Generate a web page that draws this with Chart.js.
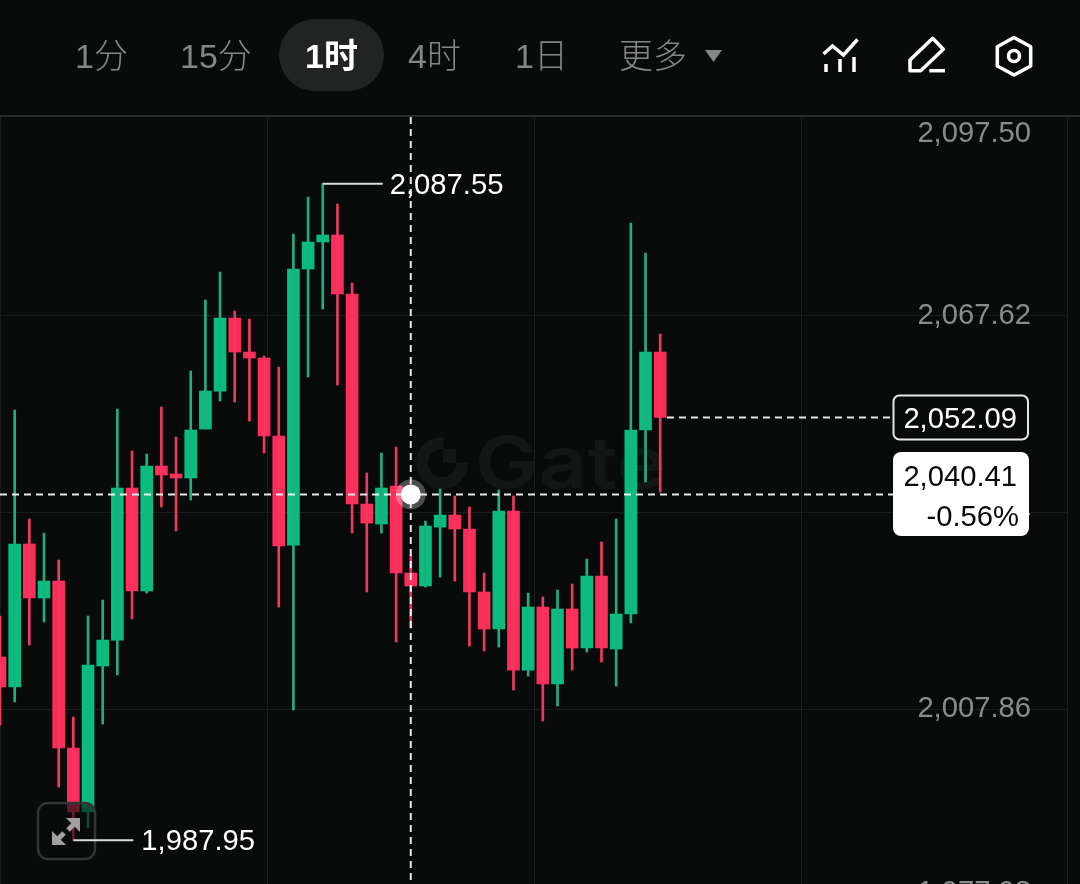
<!DOCTYPE html>
<html lang="zh">
<head>
<meta charset="utf-8">
<title>Gate 1时 K线</title>
<script src="https://cdn.jsdelivr.net/npm/chart.js@4"></script>
<style>
html,body{margin:0;padding:0;width:1080px;height:884px;overflow:hidden;background:#090b0b;}
#wrap{position:relative;width:1080px;height:884px;overflow:hidden;}
canvas#c{position:absolute;left:0;top:0;display:block;}
.tab{position:absolute;top:34px;height:44px;font:300 34px/44px "Liberation Sans","Noto Sans CJK SC",sans-serif;color:#858686;white-space:nowrap;}
.tab.on{color:#fff;font-weight:700;}
#pill{position:absolute;left:279px;top:19px;width:105px;height:72px;border-radius:36px;background:#222423;}
svg.ic{position:absolute;left:0;top:0;}
</style>
</head>
<body>
<div id="wrap">
  <canvas id="c" width="1080" height="906"></canvas>
  <div id="pill"></div>
  <div class="tab" style="left:75px">1分</div>
  <div class="tab" style="left:180px">15分</div>
  <div class="tab on" style="left:305px">1时</div>
  <div class="tab" style="left:408px">4时</div>
  <div class="tab" style="left:515px">1日</div>
  <div class="tab" style="left:619px">更多</div>
  <svg class="ic" width="1080" height="110" fill="none" stroke="#fff" stroke-width="3.5">
    <path d="M705 50h17l-8.500 12z" fill="#858686" stroke="none"/>
    <path d="M823.500 54l9-8 11 9 14-15.500"/>
    <path d="M826 64v8M840 59v13M854 57v15"/>
    <path d="M932.700 38.300l10.600 11-22.600 21.400H910V60z" stroke-linejoin="round"/>
    <path d="M929.300 70.700H945"/>
    <path d="M1014 37.500l16.700 9.300V66L1014 75l-16.700-9V46.800z" stroke-linejoin="round"/>
    <circle cx="1014" cy="56" r="5.500"/>
  </svg>
</div>
<script>
const candleIndex = Array.from({length:46},(_,i)=>i);
const opens = [2015.75,2011.20,2032.89,2024.70,2027.27,2001.94,1992.24,2014.38,2018.32,2041.38,2025.76,2044.72,2043.50,2042.90,2050.33,2056.09,2067.17,2062.01,2061.10,2049.27,2032.73,2074.60,2078.69,2079.76,2070.81,2038.95,2035.92,2041.68,2028.49,2026.52,2035.46,2037.28,2035.16,2025.61,2019.99,2037.89,2013.77,2023.33,2011.65,2023.03,2017.11,2028.03,2016.96,2022.27,2050.18,2062.01];
const highs = [2021.97,2053.21,2036.68,2034.55,2030.46,2006.65,2021.97,2024.39,2053.36,2046.99,2046.54,2053.67,2049.12,2059.13,2069.90,2074.14,2068.23,2067.01,2061.40,2059.73,2079.91,2085.52,2087.55,2084.46,2072.47,2043.66,2046.69,2047.60,2031.22,2036.37,2041.23,2040.17,2038.50,2028.49,2041.08,2040.17,2025.45,2024.85,2025.91,2026.82,2030.61,2033.19,2036.68,2081.58,2077.02,2064.74];
const lows = [2005.43,2008.92,2017.57,2021.06,1996.03,1987.95,1989.81,2005.58,2013.02,2021.51,2025.45,2038.50,2034.86,2039.56,2050.33,2054.58,2054.42,2051.54,2046.69,2023.33,2007.71,2058.22,2068.53,2057.00,2034.55,2025.61,2034.55,2018.02,2020.14,2026.36,2027.88,2027.27,2017.41,2016.66,2017.26,2010.74,2012.86,2006.04,2008.31,2013.77,2016.50,2014.99,2011.35,2020.90,2042.29,2040.77];
const closes = [2011.20,2032.89,2024.70,2027.27,2001.94,1992.24,2014.53,2018.32,2041.38,2025.76,2044.72,2043.35,2042.90,2050.18,2056.09,2067.17,2062.01,2061.10,2049.27,2032.58,2074.60,2078.69,2079.76,2070.81,2038.95,2036.07,2041.38,2028.49,2026.52,2035.62,2037.28,2035.16,2025.61,2019.99,2037.89,2013.77,2023.33,2011.65,2023.03,2017.11,2028.03,2017.11,2022.27,2050.18,2062.01,2052.09];
const yTicks = [2097.50,2067.62,2037.74,2007.86,1977.98];
const xGrid = [0,18.2,36.4,54.6,72.73];
const lastPrice = 2052.09;
const crossPrice = 2040.41;
const crossChange = '-0.56%';
const crossIndex = 28;
const highLabel = {index:22,value:2087.55};
const lowLabel = {index:5,value:1987.95};

const GREEN='#06bf7f', RED='#ff2d5a', GREENW='#1fae80', REDW='#ee3a62';
const GRID='#1b1d1d';
const FONT='"Liberation Sans",Arial,sans-serif';
const fmt=v=>v.toLocaleString('en-US',{minimumFractionDigits:2,maximumFractionDigits:2});
const up=i=>closes[i]>=opens[i];

function roundRect(ctx,x,y,w,h,r){ctx.beginPath();ctx.roundRect(x,y,w,h,r);}

const overlay={
  id:'overlay',
  beforeDraw(chart){
    const s=chart.scales.y, items=s.getLabelItems();
    if(chart.$shifted!==items){
      const shift=[16,1,0,0,-13];
      items.forEach((it,i)=>{it.options.translation[1]+=shift[i]||0;});
      chart.$shifted=items;
    }
  },
  beforeDatasetsDraw(chart){
    const c=chart.ctx;
    c.save();
    c.fillStyle='#2a2c2c';c.fillRect(0,115,1080,2);
    // watermark
    c.fillStyle='#141616';c.strokeStyle='#141616';
    c.lineWidth=12;c.beginPath();c.arc(442,463,20,-85*Math.PI/180,0,true);c.stroke();
    c.fillRect(443,449,13,14);
    c.translate(475,488);c.scale(1.18,1);
    c.font='600 72px Inter,'+FONT;c.textAlign='left';c.textBaseline='alphabetic';
    c.fillText('Gate',0,0);
    c.restore();
  },
  afterDatasetsDraw(chart){
    const c=chart.ctx,x=chart.scales.x,y=chart.scales.y;
    c.save();
    // expand button
    roundRect(c,38,803,57,56,10);
    c.fillStyle='rgba(10,12,12,0.62)';c.fill();
    c.lineWidth=2.5;c.strokeStyle='#333535';c.stroke();
    c.strokeStyle='#a0a0a0';c.fillStyle='#a0a0a0';c.lineWidth=5;
    c.beginPath();c.moveTo(74,824);c.lineTo(68,830);c.stroke();
    c.beginPath();c.moveTo(58,839);c.lineTo(64,833);c.stroke();
    c.beginPath();c.moveTo(80,818);c.lineTo(80,832);c.lineTo(66,818);c.closePath();c.fill();
    c.beginPath();c.moveTo(52,845);c.lineTo(52,831);c.lineTo(66,845);c.closePath();c.fill();
    // high / low leaders
    c.strokeStyle='#dcdcdc';c.lineWidth=2;
    const hx=x.getPixelForValue(highLabel.index),hy=y.getPixelForValue(highLabel.value);
    c.beginPath();c.moveTo(hx,hy);c.lineTo(hx+60,hy);c.stroke();
    const lx=x.getPixelForValue(lowLabel.index),ly=y.getPixelForValue(lowLabel.value);
    c.beginPath();c.moveTo(lx,ly);c.lineTo(lx+60,ly);c.stroke();
    c.font='29.200px '+FONT;c.fillStyle='#fff';c.textAlign='left';c.textBaseline='middle';
    c.fillText(fmt(highLabel.value),hx+67,hy+2);
    c.fillText(fmt(lowLabel.value),lx+68,ly+2);
    // crosshair
    const cx=x.getPixelForValue(crossIndex),cy=y.getPixelForValue(crossPrice);
    c.setLineDash([7,5]);c.lineWidth=2;c.strokeStyle='rgba(255,255,255,0.9)';
    c.beginPath();c.moveTo(cx,117);c.lineTo(cx,884);c.stroke();
    c.beginPath();c.moveTo(0,cy);c.lineTo(893,cy);c.stroke();
    // last price line
    const ly2=y.getPixelForValue(lastPrice);
    c.beginPath();c.moveTo(667,ly2);c.lineTo(893,ly2);c.stroke();
    c.setLineDash([]);
    // dot
    c.fillStyle='rgba(255,255,255,0.28)';c.beginPath();c.arc(cx,cy,15,0,Math.PI*2);c.fill();
    c.fillStyle='#fff';c.beginPath();c.arc(cx,cy,10,0,Math.PI*2);c.fill();
    // last price tag
    roundRect(c,893.500,395.500,134.500,44,6);
    c.fillStyle='#090b0b';c.fill();c.lineWidth=2;c.strokeStyle='#e6e6e6';c.stroke();
    c.fillStyle='#fff';c.textAlign='right';
    c.fillText(fmt(lastPrice),1017,ly2+3);
    // crosshair tag
    roundRect(c,893,452,136,84,8);c.fillStyle='#fff';c.fill();
    c.fillStyle='#0a0a0a';
    c.fillText(fmt(crossPrice),1017,478);
    c.fillText(crossChange,1019,518);
    c.restore();
  }
};

new Chart(document.getElementById('c'),{
  type:'bar',
  data:{datasets:[
    {label:'wick',data:candleIndex.map(i=>({x:i,y:[lows[i],highs[i]]})),barThickness:2,grouped:false,
     backgroundColor:ctx=>up(ctx.dataIndex)?GREENW:REDW,borderWidth:0},
    {label:'body',data:candleIndex.map(i=>({x:i,y:[opens[i],closes[i]]})),barThickness:12,grouped:false,
     backgroundColor:ctx=>up(ctx.dataIndex)?GREEN:RED,borderWidth:0}
  ]},
  options:{
    responsive:false,animation:false,devicePixelRatio:1,
    layout:{autoPadding:false,padding:{top:116,right:13,left:0,bottom:0}},
    plugins:{legend:{display:false},tooltip:{enabled:false}},
    scales:{
      x:{type:'linear',min:0,max:72.73,offset:false,
        afterBuildTicks:s=>{s.ticks=xGrid.map(v=>({value:v}));},
        afterFit:s=>{s.height=0;},
        grid:{offset:false,color:GRID,lineWidth:1,drawTicks:false},border:{display:false},ticks:{display:false}},
      y:{type:'linear',position:'right',min:1977.98,max:2097.81,
        afterBuildTicks:s=>{s.ticks=yTicks.map(v=>({value:v}));},
        afterFit:s=>{s.width=0;},
        grid:{color:c=>c.index===0?'transparent':GRID,lineWidth:1,drawTicks:false},border:{display:false},
        ticks:{mirror:true,padding:-36,color:'#8a8b8b',font:{family:FONT,size:29.2},callback:v=>fmt(v),autoSkip:false}}
    }
  },
  plugins:[overlay]
});
</script>
</body>
</html>
